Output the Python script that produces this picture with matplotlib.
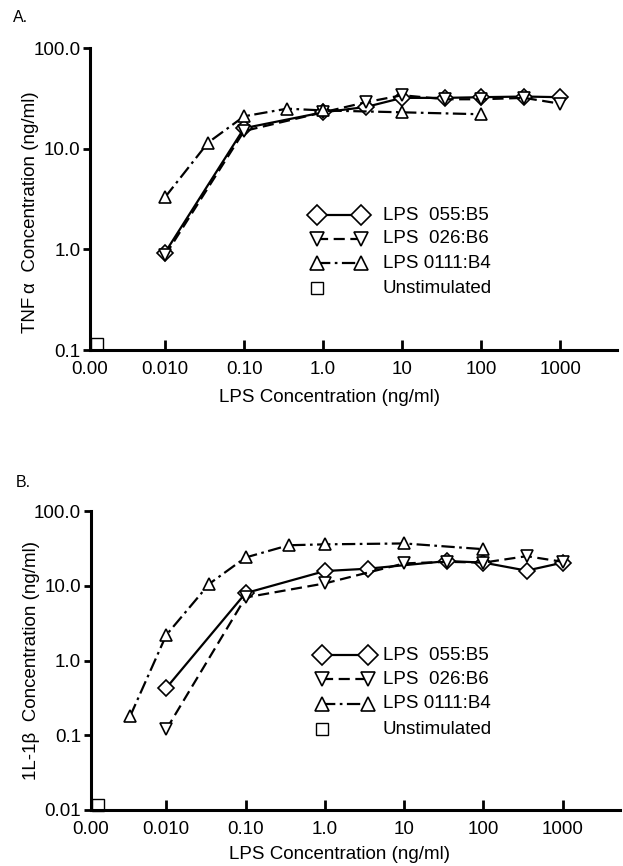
import matplotlib
matplotlib.use("Agg")
import matplotlib.pyplot as plt

plt.rcParams["font.family"] = ["Liberation Sans", "DejaVu Sans"]

# --- Panel A: TNF alpha ---
a_x_055 = [0.01, 0.1, 1, 3.5, 10, 35, 100, 350, 1000]
a_y_055 = [0.93, 16, 23, 26, 32, 32, 32.5, 33, 32.5]
a_x_026 = [0.01, 0.1, 1, 3.5, 10, 35, 100, 350, 1000]
a_y_026 = [0.87, 15, 23, 29, 34, 31, 31, 32, 28]
a_x_0111 = [0.01, 0.035, 0.1, 0.35, 1, 10, 100]
a_y_0111 = [3.3, 11.5, 21, 25, 24, 23, 22]
a_unstim = (0.00138, 0.115)

# --- Panel B: IL-1 beta ---
b_x_055 = [0.01, 0.1, 1, 3.5, 35, 100, 350, 1000]
b_y_055 = [0.43, 8.0, 15.8, 17, 21.5, 20.5, 16, 20.5]
b_x_026 = [0.01, 0.1, 1, 10, 35, 100, 350, 1000]
b_y_026 = [0.12, 7.0, 10.8, 20, 21, 20.5, 25, 21]
b_x_0111 = [0.0035, 0.01, 0.035, 0.1, 0.35, 1, 10, 100]
b_y_0111 = [0.18, 2.2, 10.7, 24, 35, 36, 37, 31]
b_unstim = (0.00138, 0.0117)

x_ticks = [10**-2.95, 0.01, 0.1, 1, 10, 100, 1000]
x_labels = ["0.00", "0.010", "0.10", "1.0", "10", "100", "1000"]
labels = ["LPS  055:B5", "LPS  026:B6", "LPS 0111:B4", "Unstimulated"]

FS = 13.5
LW = 1.6
styles = [
    dict(marker="D", linestyle="-"),
    dict(marker="v", linestyle=(0, (5, 2.5))),
    dict(marker="^", linestyle=(0, (6, 2, 1.2, 2))),
]
data_ms = [8.5, 9, 9]
leg_ms = [10, 10, 10]


def draw_panel(ax, series, unstim, yticks, ylabels, ylabel, ylab_pos,
               xlab_pos, leg_rows, leg_x):
    for (xs, ys), st, ms in zip(series, styles, data_ms):
        ax.plot(xs, ys, color="black", lw=LW, mfc="white", mec="black",
                mew=1.2, ms=ms, clip_on=False, **st)
    ax.plot([unstim[0]], [unstim[1]], marker="s", ms=8, mfc="white",
            mec="black", mew=1.0, ls="none", clip_on=False)
    ax.set_xscale("log")
    ax.set_yscale("log")
    ax.set_xlim(10**-2.95, 10**3.72)
    ax.set_ylim(yticks[0], yticks[-1])
    ax.set_xticks(x_ticks)
    ax.set_xticklabels(x_labels, fontsize=FS)
    ax.set_yticks(yticks)
    ax.set_yticklabels(ylabels, fontsize=FS)
    ax.minorticks_off()
    ax.tick_params(axis="x", direction="in", length=7, width=2, pad=8)
    ax.tick_params(axis="y", direction="out", length=5, width=2, pad=2)
    ax.xaxis.get_major_ticks()[0].tick1line.set_visible(False)
    for s in ["top", "right"]:
        ax.spines[s].set_visible(False)
    for s in ["left", "bottom"]:
        ax.spines[s].set_linewidth(2.2)

    ax.set_xlabel("LPS Concentration (ng/ml)", fontsize=FS)
    ax.xaxis.set_label_coords(*xlab_pos)
    ax.xaxis.label.set(va="center", ha="center")
    ax.set_ylabel(ylabel, fontsize=FS)
    ax.yaxis.set_label_coords(*ylab_pos)
    ax.yaxis.label.set(va="center", ha="center", rotation_mode="default")

    # legend drawn by hand
    x0, x1, xt = leg_x
    for i, (st, ms) in enumerate(zip(styles, leg_ms)):
        y = leg_rows[i]
        ax.plot([x0, x1], [y, y], transform=ax.transAxes, color="black",
                lw=LW, mfc="white", mec="black", mew=1.2, ms=ms,
                clip_on=False, **st)
        ax.text(xt, y, labels[i], transform=ax.transAxes, fontsize=FS,
                va="center", ha="left")
    y = leg_rows[3]
    ax.plot([x0], [y], transform=ax.transAxes, marker="s", ms=8.5,
            mfc="white", mec="black", mew=1.0, ls="none", clip_on=False)
    ax.text(xt, y, labels[3], transform=ax.transAxes, fontsize=FS,
            va="center", ha="left")


fig = plt.figure(figsize=(6.23, 8.66), dpi=100)

ax_a = fig.add_axes([0.1445, 0.5958, 0.846, 0.3487])
draw_panel(ax_a,
           [(a_x_055, a_y_055), (a_x_026, a_y_026), (a_x_0111, a_y_0111)],
           a_unstim, [0.1, 1, 10, 100], ["0.1", "1.0", "10.0", "100.0"],
           "TNF\u2009\u03b1  Concentration (ng/ml)",
           (-0.112, 0.455), (0.455, -0.157),
           [0.447, 0.368, 0.288, 0.205], (0.43, 0.515, 0.555))

ax_b = fig.add_axes([0.146, 0.0647, 0.849, 0.345])
draw_panel(ax_b,
           [(b_x_055, b_y_055), (b_x_026, b_y_026), (b_x_0111, b_y_0111)],
           b_unstim, [0.01, 0.1, 1, 10, 100],
           ["0.01", "0.1", "1.0", "10.0", "100.0"],
           "1L-1\u03b2  Concentration (ng/ml)",
           (-0.113, 0.5), (0.47, -0.15),
           [0.518, 0.438, 0.355, 0.271], (0.437, 0.524, 0.552))

fig.text(13 / 623, 1 - 18 / 866, "A.", fontsize=FS - 2, va="center", ha="left")
fig.text(16 / 623, 1 - 483 / 866, "B.", fontsize=FS - 2, va="center", ha="left")

fig.savefig("out.png", dpi=100)
